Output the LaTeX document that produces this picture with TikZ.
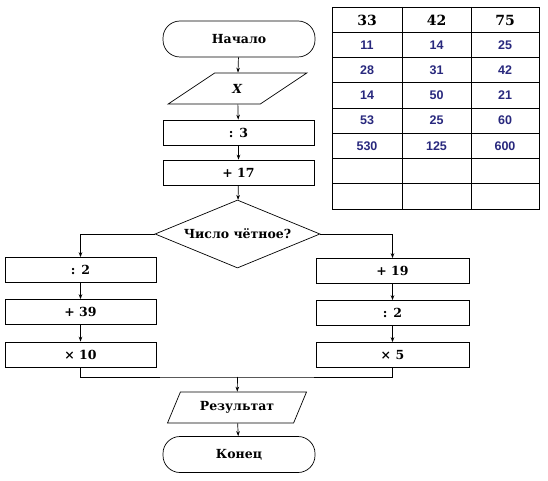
\documentclass[tikz,border=0pt]{standalone}
\usepackage{fontspec}
\setmainfont{DejaVu Serif}
\setsansfont{Liberation Sans}
\usetikzlibrary{shapes.geometric,arrows.meta}
\definecolor{numblue}{RGB}{40,40,125}

\begin{document}
\begin{tikzpicture}[x=1pt,y=-1pt,line width=0.7pt,>={Stealth[length=5pt,width=3.6pt]},
    font=\bfseries\fontsize{12.5}{14}\selectfont]
    \tikzstyle{block}=[draw, rectangle, minimum width=151pt, minimum height=25pt, inner sep=0pt]
    \tikzstyle{term}=[draw, rectangle, rounded corners=17pt, minimum width=152pt, minimum height=36pt, inner sep=0pt]
    \tikzstyle{io}=[draw, trapezium, trapezium stretches=true, minimum height=31pt, inner sep=0pt]
    \tikzstyle{cond}=[draw, diamond, aspect=2.43, minimum width=165pt, minimum height=68pt, inner sep=0pt]
    \tikzstyle{head}=[font=\bfseries\fontsize{14}{16}\selectfont]
    \tikzstyle{num}=[font=\sffamily\bfseries\fontsize{12.5}{14}\selectfont, text=numblue]

    \useasboundingbox (0,0) rectangle (548,481);

% Nodes
    % Main column
    \node[term] (start) at (239,39) {Начало};
    \node[io, minimum width=139pt, trapezium left angle=41.5, trapezium right angle=138.5] (inX) at (237.5,88.5) {\textit{X}};
    \node[block] (div3) at (238.5,132.5) {: 3};
    \node[block] (add17) at (238.5,172.5) {+ 17};
    \node[cond] (even) at (237.5,234) {Число чётное?};

    % Left branch
    \foreach \name/\txt/\y in {1/: 2/270, 2/+ 39/312, 3/× 10/354.5}
        \node[block] (L-\name) at (80.5,\y) {\txt};

    % Right branch
    \foreach \name/\txt/\y in {1/+ 19/271, 2/: 2/313, 3/× 5/355}
        \node[block, minimum width=153pt] (R-\name) at (392.5,\y) {\txt};

    \coordinate (merge) at (237.5,377);
    \node[io, minimum width=140pt, trapezium left angle=54.6, trapezium right angle=125.4] (res) at (237,407.5) {Результат};
    \node[term] (stop) at (239,454.5) {Конец};

% Paths
    \draw[->] (start) -- (inX);
    \draw[->] (inX) -- (div3);
    \draw[->] (div3) -- (add17);
    \draw[->] (add17) -- (even);
    \draw[->] (even.west) -| (L-1);
    \draw[->] (even.east) -| (R-1);
    \foreach \a/\b in {1/2,2/3} {
        \draw[->] (L-\a) -- (L-\b);
        \draw[->] (R-\a) -- (R-\b);
    }
    \draw (L-3) |- (merge) -| (R-3);
    \draw[->] (merge) -- (res);
    \draw[->] (res) -- (stop);

% Table
    \draw (332,7) rectangle (539,209);
    \foreach \x in {402,471}
        \draw (\x,7) -- (\x,209);
    \foreach \r in {1,...,7}
        \draw (332,{7+25.25*\r}) -- (539,{7+25.25*\r});
    \node[head] (h-1) at (367,20) {33};
    \node[head] (h-2) at (436.5,20) {42};
    \node[head] (h-3) at (505,20) {75};
    \foreach \a/\b/\c [count=\r] in {11/14/25, 28/31/42, 14/50/21, 53/25/60, 530/125/600} {
        \node[num] (n-\r-1) at (367,{7+25.25*(\r+0.5)}) {\a};
        \node[num] (n-\r-2) at (436.5,{7+25.25*(\r+0.5)}) {\b};
        \node[num] (n-\r-3) at (505,{7+25.25*(\r+0.5)}) {\c};
    }

\end{tikzpicture}
\end{document}
